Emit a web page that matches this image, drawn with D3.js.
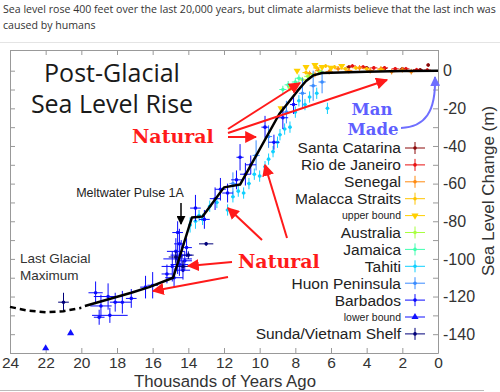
<!DOCTYPE html>
<html><head><meta charset="utf-8">
<script src="https://cdn.jsdelivr.net/npm/d3@7"></script>
<style>
body{margin:0;background:#fff;}
svg{display:block;}
</style></head>
<body>
<svg id="chart" width="500" height="392"></svg>
<script>
// ---- data: [thousand years ago, sea level (m), age error, level error]
const xTicks = [24,22,20,18,16,14,12,10,8,6,4,2,0];
const yTicks = [0,-10,-20,-30,-40,-50,-60,-70,-80,-90,-100,-110,-120,-130,-140,-150];
const yLabels = [0,-20,-40,-60,-80,-100,-120,-140];

const curveDashed = [[24,-125.5],[23,-127.5],[22,-128.3],[21,-127.8],[20,-126]];
const curveSolid = [[19.8,-125],[17.2,-118],[16.2,-115],[14.85,-110],[13.8,-78],[13.2,-77.5],[12.0,-62],[11.1,-60.5],[8.9,-23],[7.9,-11],[7.4,-5.5],[7.0,-2.5],[6.5,-1.2],[4,-0.5],[2,-0.2],[0,0]];

const santaCatarina = [[5.0,2,0.15,0.8],[4.0,1.5,0.15,0.8],[3.0,1.2,0.15,0.8],[2.0,1,0.15,0.8],[1.0,0.5,0.15,0.8],[0.55,3,0.1,1]];
const rioDeJaneiro = [[4.8,2.5,0.2,1],[4.2,2,0.2,1],[3.6,1.5,0.2,1],[3.0,1.5,0.2,1],[2.4,1,0.2,1],[1.8,1,0.2,1],[1.2,0.5,0.2,1],[0.6,0.3,0.2,1]];
const senegal = [[7.2,-1.5,0.2,1.5],[6.9,-2,0.2,1.5],[6.7,0,0.2,1.5],[6.1,-0.5,0.2,1.5],[5.6,1,0.2,1.5],[5.0,0,0.2,1.5],[4.4,1.5,0.2,1.5],[3.8,0,0.2,1.5],[3.2,1,0.2,1.5],[2.6,-0.5,0.2,1.5],[2.0,0.5,0.2,1.5],[1.5,-0.5,0.2,1.5]];
const malaccaStraits = [[7.4,-1,0.2,1],[6.8,1.5,0.2,1],[6.3,2.5,0.2,1],[5.8,2,0.2,1],[5.2,1,0.2,1],[4.6,1.5,0.2,1],[4.0,1,0.2,1],[3.2,0.5,0.2,1]];
const upperBound = [[8.8,-20],[8.3,-9],[7.9,0],[7.4,2],[6.9,3],[6.5,2],[6.0,1.5],[5.4,2.5]];
const australia = [[8.2,-9,0.2,1.5],[7.6,-4.8,0.2,1.5],[7.3,-3,0.2,1.5],[7.0,-2,0.2,1],[6.6,-0.5,0.2,1]];
const jamaica = [[8.7,-10,0.2,2],[8.4,-7.5,0.2,2],[8.0,-6,0.2,2],[7.8,-4,0.2,2]];
const tahiti = [[13.9,-82,0.1,4],[13.6,-80,0.1,4],[13.4,-77,0.1,3],[13.2,-79,0.1,3],[12.8,-72,0.1,3],[12.4,-70,0.1,3],[11.8,-74,0.1,3],[11.5,-67,0.1,3],[11.2,-64,0.1,3],[10.9,-65,0.1,3],[10.6,-60,0.1,3],[10.3,-55,0.1,3],[10.0,-56,0.1,3],[9.7,-51,0.1,3],[9.5,-47,0.1,3],[9.25,-43,0.1,3],[9.0,-38,0.1,3],[8.86,-34,0.1,3],[8.6,-31,0.1,3],[8.3,-30,0.1,3],[8.0,-22,0.1,3],[7.8,-16,0.1,3],[7.46,-18,0.1,3],[7.2,-14,0.1,3],[6.8,-12,0.1,3],[6.2,-20,0.1,3]];
const huonPeninsula = [[11.5,-60,0.2,6],[10.2,-45,0.2,8],[9.5,-35,0.2,6],[8.5,-22,0.2,6],[7.6,-12,0.2,8],[7.0,-8,0.2,8],[6.5,-6,0.2,6]];
const barbados = [[19.2,-118,0.4,6],[18.9,-125,0.6,6],[19.0,-131,0.3,4],[18.5,-120,0.8,7],[18.4,-130,1.0,4],[18.1,-123,0.3,5],[17.7,-123,0.5,6],[17.2,-121,0.3,5],[16.4,-115,0.3,6],[16.0,-114,0.3,7],[15.2,-108,0.3,5],[14.9,-104,0.6,8],[14.7,-96,0.5,7],[14.6,-100,0.8,8],[14.5,-103,0.5,6],[14.4,-98,0.6,8],[14.3,-106,0.4,5],[14.5,-92,0.3,8],[14.2,-101,0.4,5],[14.8,-110,0.5,5],[14.6,-86,0.3,6],[14.1,-94,0.3,5],[13.6,-73,0.3,7],[13.1,-79,0.3,5],[12.5,-68,0.3,6],[12.2,-63,0.3,6],[11.8,-65,0.3,5],[11.3,-58,0.3,5],[11.1,-46,0.2,7],[10.8,-55,0.3,6],[10.5,-50,0.3,5],[9.7,-30,0.2,6],[9.2,-38,0.3,4],[8.7,-25,0.3,6],[8.1,-18,0.2,5]];
const lowerBound = [[22.0,-147.5],[20.6,-139.5]];
const sundaShelf = [[21.0,-123,0.3,5],[13.0,-92,0.4,1],[14.7,-99,0.4,3],[14.3,-104,0.3,3],[14.0,-98,0.3,2]];

const legendNames = ["Santa Catarina","Rio de Janeiro","Senegal","Malacca Straits","upper bound","Australia","Jamaica","Tahiti","Huon Peninsula","Barbados","lower bound","Sunda/Vietnam Shelf"];
const legendColors = ["#8b0a0a","#e81010","#ff8a10","#ffc400","#ffd000","#a8ff40","#40ffb0","#10d0ff","#3a8cff","#0a0aff","#1010ff","#00007a"];
const seriesData = [santaCatarina,rioDeJaneiro,senegal,malaccaStraits,upperBound,australia,jamaica,tahiti,huonPeninsula,barbados,lowerBound,sundaShelf];
const seriesKind = ["cross","cross","cross","cross","tridown","cross","cross","cross","cross","cross","triup","cross"];

const svg = d3.select("#chart");
const x = d3.scaleLinear().domain([24,0]).range([10,438]);
const y = d3.scaleLinear().domain([-150,11]).range([353,50]);

// caption
const cap = svg.append("g").attr("font-family","'Segoe UI','Open Sans','Noto Sans',sans-serif").attr("font-size","10.6px").attr("fill","#333");
cap.append("text").attr("x",3).attr("y",13).text("Sea level rose 400 feet over the last 20,000 years, but climate alarmists believe that the last inch was");
cap.append("text").attr("x",3).attr("y",29).text("caused by humans");
svg.append("line").attr("x1",0).attr("x2",500).attr("y1",42.5).attr("y2",42.5).attr("stroke","#e4e4e4");
svg.append("line").attr("x1",0).attr("x2",484).attr("y1",390.5).attr("y2",390.5).attr("stroke","#bbb");

// defs: arrowheads
const defs = svg.append("defs");
function mk(id,color,size){
  defs.append("marker").attr("id",id).attr("viewBox","0 0 10 10").attr("refX",9).attr("refY",5)
    .attr("markerWidth",size).attr("markerHeight",size).attr("markerUnits","userSpaceOnUse").attr("orient","auto")
    .append("path").attr("d","M0,0 L10,5 L0,10 Z").attr("fill",color);
}
mk("ar","#ff1a1a",12); mk("ab","#000",9); mk("abl","#6f6fff",10);

// axes
const axisColor = "#999";
function styleAxis(g){
  g.selectAll(".domain").attr("stroke",axisColor);
  g.selectAll(".tick line").attr("stroke",axisColor);
  g.selectAll(".tick text").attr("fill","#333").attr("font-family","'Liberation Sans',Arial,sans-serif").attr("font-size","15.5px");
}
const gB = svg.append("g").attr("transform","translate(0,353)")
  .call(d3.axisBottom(x).tickValues(xTicks).tickFormat(d3.format("d")).tickSizeInner(-5).tickSizeOuter(0).tickPadding(4));
styleAxis(gB);
const gT = svg.append("g").attr("transform","translate(0,50)")
  .call(d3.axisTop(x).tickValues(xTicks).tickFormat("").tickSizeInner(-5).tickSizeOuter(0));
styleAxis(gT);
const gL = svg.append("g").attr("transform","translate(10,0)")
  .call(d3.axisLeft(y).tickValues(yTicks).tickFormat("").tickSizeInner(-5).tickSizeOuter(0));
styleAxis(gL);
const gR = svg.append("g").attr("transform","translate(438,0)")
  .call(d3.axisRight(y).tickValues(yTicks).tickFormat(d => yLabels.includes(d) ? d : "").tickSizeInner(-5).tickSizeOuter(0).tickPadding(5));
styleAxis(gR);
gR.selectAll(".tick text").attr("font-size","16px");

svg.append("text").attr("x",225).attr("y",387).attr("text-anchor","middle")
  .attr("font-family","'Liberation Sans',Arial,sans-serif").attr("font-size","16.8px").attr("fill","#333").text("Thousands of Years Ago");
svg.append("text").attr("transform","translate(494,191) rotate(-90)").attr("text-anchor","middle")
  .attr("font-family","'Liberation Sans',Arial,sans-serif").attr("font-size","17px").attr("fill","#333").text("Sea Level Change (m)");

// data series
const plot = svg.append("g");
seriesData.forEach((data,i) => {
  const c = legendColors[i];
  const g = plot.append("g");
  if (seriesKind[i] === "cross") {
    data.forEach(d => {
      g.append("line").attr("x1",x(d[0]+d[2])).attr("x2",x(d[0]-d[2])).attr("y1",y(d[1])).attr("y2",y(d[1])).attr("stroke",c).attr("stroke-width",1);
      g.append("line").attr("x1",x(d[0])).attr("x2",x(d[0])).attr("y1",y(d[1]-d[3])).attr("y2",y(d[1]+d[3])).attr("stroke",c).attr("stroke-width",1);
      g.append("circle").attr("cx",x(d[0])).attr("cy",y(d[1])).attr("r",1.8).attr("fill",c);
    });
  } else {
    const sym = d3.symbol().type(d3.symbolTriangle).size(22);
    data.forEach(d => {
      g.append("path").attr("d",sym()).attr("fill",c)
        .attr("transform",`translate(${x(d[0])},${y(d[1])}) rotate(${seriesKind[i]==="tridown"?180:0})`);
    });
  }
});

// curve
const line = d3.line().x(d => x(d[0])).y(d => y(d[1]));
svg.append("path").attr("d",line(curveDashed)).attr("fill","none").attr("stroke","#000").attr("stroke-width",2.5).attr("stroke-dasharray","6,4");
svg.append("path").attr("d",line(curveSolid)).attr("fill","none").attr("stroke","#000").attr("stroke-width",2.5).attr("stroke-linejoin","round");

// legend
const lg = svg.append("g");
legendNames.forEach((n,i) => {
  const ly = 148 + i*16.9;
  const small = seriesKind[i] !== "cross";
  lg.append("text").attr("x",401).attr("y",ly).attr("dy","0.35em").attr("text-anchor","end")
    .attr("font-family","'Liberation Sans',Arial,sans-serif").attr("font-size",small?"10.5px":"15.5px").attr("fill","#222").text(n);
  const c = legendColors[i];
  lg.append("line").attr("x1",405).attr("x2",425).attr("y1",ly).attr("y2",ly).attr("stroke",c).attr("stroke-width",1);
  if (!small) {
    lg.append("line").attr("x1",415).attr("x2",415).attr("y1",ly-6).attr("y2",ly+6).attr("stroke",c).attr("stroke-width",1);
    lg.append("circle").attr("cx",415).attr("cy",ly).attr("r",1.8).attr("fill",c);
  } else {
    lg.append("path").attr("d",d3.symbol().type(d3.symbolTriangle).size(22)()).attr("fill",c)
      .attr("transform",`translate(415,${ly}) rotate(${seriesKind[i]==="tridown"?180:0})`);
  }
});

// title
const tg = svg.append("g").attr("font-family","'Open Sans','Noto Sans',sans-serif").attr("font-size","25px").attr("fill","#1a1a1a").attr("text-anchor","middle");
tg.append("text").attr("x",112).attr("y",82).text("Post-Glacial");
tg.append("text").attr("x",112).attr("y",113).text("Sea Level Rise");

// annotations
svg.append("text").attr("x",130).attr("y",197).attr("text-anchor","middle").attr("font-family","'Liberation Sans',Arial,sans-serif").attr("font-size","12.5px").attr("fill","#222").text("Meltwater Pulse 1A");
svg.append("line").attr("x1",181).attr("x2",181).attr("y1",203).attr("y2",224).attr("stroke","#000").attr("stroke-width",1.5).attr("marker-end","url(#ab)");
const lgm = svg.append("g").attr("font-family","'Liberation Sans',Arial,sans-serif").attr("font-size","13.5px").attr("fill","#333");
lgm.append("text").attr("x",20).attr("y",263).text("Last Glacial");
lgm.append("text").attr("x",20).attr("y",280).text("Maximum");

// red arrows
const redArrows = [[228,129,300,83],[228,133,387,80],[228,137,256,137],[287,238,265,165],[262,240,228,208],[232,262,188,266],[228,277,153,291]];
redArrows.forEach(a => svg.append("line").attr("x1",a[0]).attr("y1",a[1]).attr("x2",a[2]).attr("y2",a[3])
  .attr("stroke","#ff1a1a").attr("stroke-width",2).attr("marker-end","url(#ar)"));

const nat = svg.append("g").attr("font-family","'DejaVu Serif',serif").attr("font-weight","bold").attr("font-size","19px").attr("fill","#ff1a1a");
nat.append("text").attr("x",132).attr("y",143).text("Natural");
nat.append("text").attr("x",238).attr("y",268).text("Natural");

const mm = svg.append("g").attr("font-family","'DejaVu Serif',serif").attr("font-weight","bold").attr("font-size","16.5px").attr("fill","#5f5fff").attr("text-anchor","middle");
mm.append("text").attr("x",372).attr("y",115).text("Man");
mm.append("text").attr("x",373).attr("y",134.5).text("Made");
svg.append("path").attr("d","M401,128 C425,127 436,112 435,77").attr("fill","none").attr("stroke","#6f6fff").attr("stroke-width",2).attr("marker-end","url(#abl)");
</script>
</body></html>
